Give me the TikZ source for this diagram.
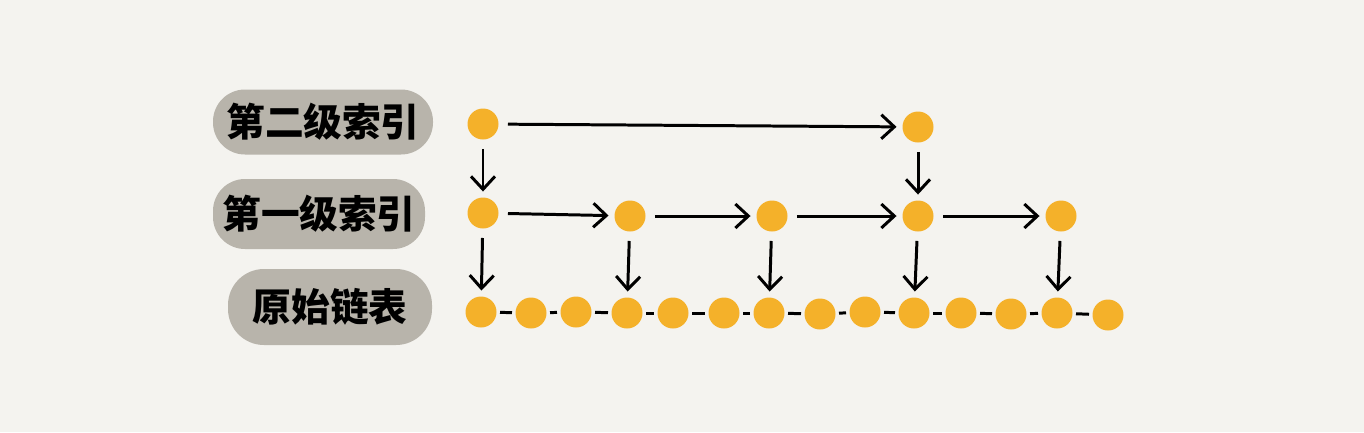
\documentclass[tikz,border=0pt]{standalone}
\usepackage{fontspec}
\newfontfamily\cjk{Noto Sans CJK SC}
\usepackage{xcolor}
\usetikzlibrary{arrows.meta}
\definecolor{paper}{HTML}{F4F3EF}
\definecolor{blob}{HTML}{B8B4AB}
\definecolor{dotfill}{HTML}{F4B12A}

\begin{document}
\begin{tikzpicture}[
  x=0.1mm, y=-0.1mm,
  dot/.style={circle, fill=dotfill, minimum size=3.1mm, inner sep=0pt},
  lbl/.style={rectangle, rounded corners=3.2mm, fill=blob, inner sep=0pt, font=\cjk\bfseries\fontsize{11}{13}\selectfont},
  link/.style={line width=0.85pt, shorten <=0.8pt, shorten >=0.8pt},
  jump/.style={-{Straight Barb[length=1.3mm, width=2.4mm]}, line width=0.85pt, shorten <=2.5pt, shorten >=1.5pt}
]
\fill[paper] (0,0) rectangle (1364,432);
\useasboundingbox (0,0) rectangle (1364,432);

% labels
\node[lbl, minimum width=22mm, minimum height=6.5mm] (lvltwo) at (323,122) {第二级索引};
\node[lbl, minimum width=21.2mm, minimum height=7mm] (lvlone) at (319,214) {第一级索引};
\node[lbl, minimum width=20.4mm, minimum height=7.6mm, rounded corners=3.6mm] (base) at (330,307) {原始链表};

% raw list
\node[dot] (b1) at (481,312) {};
\node[dot] (b2) at (531,313) {};
\node[dot] (b3) at (576,312) {};
\node[dot] (b4) at (627,313) {};
\node[dot] (b5) at (673,313) {};
\node[dot] (b6) at (724,313) {};
\node[dot] (b7) at (769,313) {};
\node[dot] (b8) at (820,314) {};
\node[dot] (b9) at (865,312) {};
\node[dot] (b10) at (914,313) {};
\node[dot] (b11) at (961,313) {};
\node[dot] (b12) at (1011,314) {};
\node[dot] (b13) at (1057,313) {};
\node[dot] (b14) at (1108,315) {};

% first level index
\node[dot] (f1) at (483,213) {};
\node[dot] (f2) at (630,216) {};
\node[dot] (f3) at (772,216) {};
\node[dot] (f4) at (918,216) {};
\node[dot] (f5) at (1061,216) {};

% second level index
\node[dot] (s1) at (483,124) {};
\node[dot] (s2) at (918,127) {};

\draw[link] (b1) -- (b2);
\draw[link] (b2) -- (b3);
\draw[link] (b3) -- (b4);
\draw[link] (b4) -- (b5);
\draw[link] (b5) -- (b6);
\draw[link] (b6) -- (b7);
\draw[link] (b7) -- (b8);
\draw[link] (b8) -- (b9);
\draw[link] (b9) -- (b10);
\draw[link] (b10) -- (b11);
\draw[link] (b11) -- (b12);
\draw[link] (b12) -- (b13);
\draw[link] (b13) -- (b14);

\draw[jump] (f1) -- (f2);
\draw[jump] (f2) -- (f3);
\draw[jump] (f3) -- (f4);
\draw[jump] (f4) -- (f5);

\draw[jump] (f1) -- (b1);
\draw[jump] (f2) -- (b4);
\draw[jump] (f3) -- (b7);
\draw[jump] (f4) -- (b10);
\draw[jump] (f5) -- (b13);

\draw[jump] (s1) -- (s2);
\draw[jump] (s1) -- (f1);
\draw[jump] (s2) -- (f4);
\end{tikzpicture}
\end{document}
